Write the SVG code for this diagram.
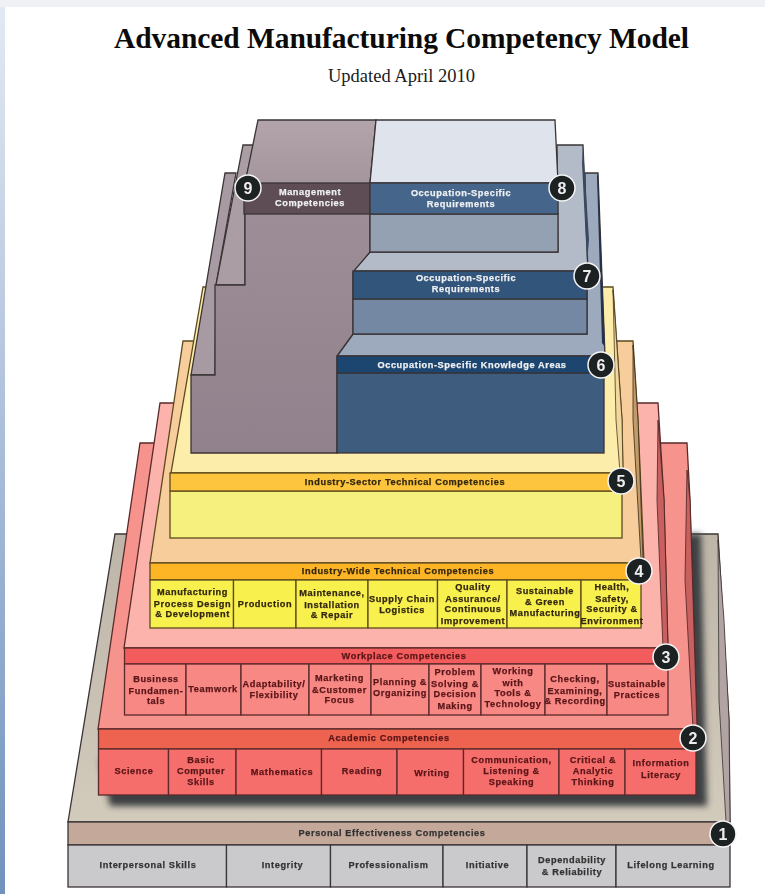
<svg xmlns="http://www.w3.org/2000/svg" width="765" height="894" viewBox="0 0 765 894">
<style>
.e{stroke:#3a3436;stroke-width:1.3;stroke-linejoin:miter}
.r{stroke:#5a2a2a;stroke-width:1.3}
.y{stroke:#5c4a1c;stroke-width:1.3}
.t{font-family:"Liberation Sans",Arial,sans-serif;font-weight:700;font-size:9.2px;letter-spacing:.6px;text-anchor:middle;stroke-width:.25px}
.w{fill:#eef0f2;stroke:#eef0f2}.g{fill:#333;stroke:#333}.d{fill:#5a1518;stroke:#5a1518}.b{fill:#33270f;stroke:#33270f}
.n circle{fill:#1e2024;stroke:#f4f4f4;stroke-width:1.5}
.n text{font-family:"Liberation Sans",Arial,sans-serif;font-weight:700;font-size:16px;fill:#eee;text-anchor:middle}
</style>
<defs>
<linearGradient id="side" x1="0" y1="0" x2="0" y2="1"><stop offset="0" stop-color="#e3e9f2"/><stop offset=".4" stop-color="#b5c6de"/><stop offset="1" stop-color="#7092bd"/></linearGradient>
<linearGradient id="mauve" x1="0" y1="0" x2="0" y2="1"><stop offset="0" stop-color="#b2a4aa"/><stop offset=".3" stop-color="#9d8d96"/><stop offset="1" stop-color="#91818c"/></linearGradient>
<linearGradient id="beige" x1="0" y1="0" x2="0" y2="1"><stop offset="0" stop-color="#bdb5a8"/><stop offset="1" stop-color="#d2cabb"/></linearGradient>
<filter id="soft" x="-5%" y="-5%" width="110%" height="110%"><feGaussianBlur stdDeviation=".35"/></filter>
<filter id="shade" x="-10%" y="-10%" width="120%" height="120%"><feGaussianBlur stdDeviation="3"/></filter>
</defs>
<rect width="765" height="894" fill="#fff"/>
<rect width="765" height="7" fill="#eff1f5"/>
<rect y="7" width="5" height="887" fill="url(#side)"/>
<text x="401.500" y="48" font-family="'Liberation Serif','Times New Roman',serif" font-weight="700" font-size="29.500px" text-anchor="middle" textLength="575" fill="#0b0b0b">Advanced Manufacturing Competency Model</text>
<text x="401.500" y="82" font-family="'Liberation Serif','Times New Roman',serif" font-size="18.500px" text-anchor="middle" textLength="147" fill="#1a1a1a">Updated April 2010</text>
<g filter="url(#soft)">
<g id="level1">
<polygon class="e" points="115,534 718,534 729,720 730,822 68,822" fill="url(#beige)"/>
<polygon points="718,540 724,620 729,720 730,822 726,822 719,700" fill="#b3a4a4" stroke="#3a3436" stroke-width=".8"/>
<polygon points="693,534 701,534 707,806 110,806 100,760" fill="#3d3f43" filter="url(#shade)"/>
</g>
<g id="level2-back">
<polygon class="r" points="140,443 687,443 690,500 697,729 98,729" fill="#f7938d"/>
<polygon points="687,470 690,500 697,729 693,729 685,580" fill="#c8605f" stroke="#4a2424" stroke-width=".8"/>
</g>
<g id="level3-back">
<polygon class="r" points="160,403 658,403 664,500 668,648 124,648" fill="#fbb3ac"/>
<polygon points="658,420 664,500 668,648 663,648 657,500" fill="#c9605f" stroke="#4a2424" stroke-width=".8"/>
</g>
<g id="level4-back">
<polygon class="y" points="183,341 633,341 638,420 644,563 150,563" fill="#f6cd9b"/>
<polygon points="633,345 638,420 643,560 641,560 633,420" fill="#c39a6a" stroke="#3a2c18" stroke-width=".8"/>
</g>
<g id="level5-back">
<polygon class="y" points="203,287 613,287 622,420 623,473 171,473" fill="#fdedab"/>
<polygon points="613,290 622,420 623,473 620,473 616,420" fill="#f2d79c" stroke="#4a3a20" stroke-width=".8"/>
</g>
<g id="backs">
<polygon class="e" points="585,173 598,173 605,356 337,356 353,334 587,334 587,271" fill="#9daabd"/>
<polygon points="597,176 598,173 605,347 602,343" fill="#25324a"/>
<polygon class="e" points="557,145 583,145 588,271 353,271 370,252 558,252" fill="#b3bbc9"/>
<polygon points="582,163 583,145 589,240 587,263" fill="#3a4a60"/>
<polygon class="e" points="225,173 236,173 216,285 215,375 191,375" fill="#a89aa2"/>
<polygon class="e" points="243,145 254,145 245,183 245,285 216,285" fill="#ab9da4"/>
</g>
<g id="mgmt">
<polygon class="e" points="258,120 376,120 370,183 370,252 353,272 353,334 337,356 337,453 191,453 191,375 215,375 215,285 245,285 245,183" fill="url(#mauve)"/>
<rect class="e" x="244" y="183" width="126" height="31" fill="#5e4d54"/>
<text class="t w" x="310" y="195">Management</text>
<text class="t w" x="310" y="206">Competencies</text>
</g>
<g id="occ8">
<polygon class="e" points="376,120 555,120 558,183 370,183" fill="#dfe4ec"/>
<rect class="e" x="370" y="214" width="188" height="38" fill="#93a1b3"/>
<rect class="e" x="370" y="183" width="188" height="31" fill="#44658a"/>
<text class="t w" x="461" y="196">Occupation-Specific</text>
<text class="t w" x="461" y="207">Requirements</text>
</g>
<g id="occ7">
<rect class="e" x="353" y="299" width="234" height="35" fill="#7488a3"/>
<rect class="e" x="353" y="271" width="234" height="28" fill="#32547c"/>
<text class="t w" x="466" y="281">Occupation-Specific</text>
<text class="t w" x="466" y="292">Requirements</text>
</g>
<g id="occ6">
<rect class="e" x="337" y="373" width="267" height="80" fill="#3e5c7e"/>
<rect class="e" x="337" y="356" width="267" height="17" fill="#1e4570"/>
<text class="t w" x="472" y="368">Occupation-Specific Knowledge Areas</text>
</g>
<g id="level5">
<rect class="y" x="170" y="491" width="452" height="47" fill="#f6f07f"/>
<rect class="y" x="170" y="473" width="452" height="18" fill="#fdc53c"/>
<text class="t b" x="405" y="485">Industry-Sector Technical Competencies</text>
</g>
<g id="level4">
<rect class="y" x="150" y="563" width="491" height="17" fill="#fdb528"/>
<text class="t b" x="398" y="574">Industry-Wide Technical Competencies</text>
<g fill="#f8f04e">
<rect class="y" x="150" y="580" width="83.500" height="48"/><rect class="y" x="233.500" y="580" width="62.500" height="48"/><rect class="y" x="296" y="580" width="72" height="48"/><rect class="y" x="368" y="580" width="69.500" height="48"/><rect class="y" x="437.500" y="580" width="69.500" height="48"/><rect class="y" x="507" y="580" width="74" height="48"/><rect class="y" x="581" y="580" width="60" height="48"/>
</g>
<text class="t b" x="192.500" y="595">Manufacturing</text><text class="t b" x="192.500" y="607">Process Design</text><text class="t b" x="192.500" y="617">&amp; Development</text>
<text class="t b" x="265" y="607">Production</text>
<text class="t b" x="332" y="596">Maintenance,</text><text class="t b" x="332" y="608">Installation</text><text class="t b" x="332" y="618">&amp; Repair</text>
<text class="t b" x="402" y="602">Supply Chain</text><text class="t b" x="402" y="613">Logistics</text>
<text class="t b" x="473" y="590">Quality</text><text class="t b" x="473" y="602">Assurance/</text><text class="t b" x="473" y="612">Continuous</text><text class="t b" x="473" y="624">Improvement</text>
<text class="t b" x="545" y="594">Sustainable</text><text class="t b" x="545" y="605">&amp; Green</text><text class="t b" x="545" y="616">Manufacturing</text>
<text class="t b" x="612" y="590">Health,</text><text class="t b" x="612" y="602">Safety,</text><text class="t b" x="612" y="612">Security &amp;</text><text class="t b" x="612" y="624">Environment</text>
</g>
<g id="level3">
<rect class="r" x="124.500" y="648" width="543.500" height="16" fill="#f25c5c"/>
<text class="t d" x="404" y="659">Workplace Competencies</text>
<g fill="#f88884">
<rect class="r" x="124.500" y="664" width="61.500" height="51"/><rect class="r" x="186" y="664" width="55" height="51"/><rect class="r" x="241" y="664" width="68" height="51"/><rect class="r" x="309" y="664" width="62" height="51"/><rect class="r" x="371" y="664" width="58" height="51"/><rect class="r" x="429" y="664" width="52" height="51"/><rect class="r" x="481" y="664" width="64" height="51"/><rect class="r" x="545" y="664" width="62" height="51"/><rect class="r" x="607" y="664" width="61" height="51"/>
</g>
<text class="t d" x="156" y="682">Business</text><text class="t d" x="156" y="694">Fundamen-</text><text class="t d" x="156" y="704">tals</text>
<text class="t d" x="213" y="692">Teamwork</text>
<text class="t d" x="274" y="687">Adaptability/</text><text class="t d" x="274" y="698">Flexibility</text>
<text class="t d" x="339.500" y="681">Marketing</text><text class="t d" x="339.500" y="693">&amp;Customer</text><text class="t d" x="339.500" y="703">Focus</text>
<text class="t d" x="400" y="685">Planning &amp;</text><text class="t d" x="400" y="696">Organizing</text>
<text class="t d" x="455" y="675">Problem</text><text class="t d" x="455" y="687">Solving &amp;</text><text class="t d" x="455" y="697">Decision</text><text class="t d" x="455" y="709">Making</text>
<text class="t d" x="513" y="674">Working</text><text class="t d" x="513" y="686">with</text><text class="t d" x="513" y="696">Tools &amp;</text><text class="t d" x="513" y="707">Technology</text>
<text class="t d" x="575" y="682">Checking,</text><text class="t d" x="575" y="694">Examining,</text><text class="t d" x="575" y="704">&amp; Recording</text>
<text class="t d" x="637" y="687">Sustainable</text><text class="t d" x="637" y="698">Practices</text>
</g>
<g id="level2">
<rect class="r" x="98.500" y="729" width="597.500" height="20" fill="#ee6350"/>
<text class="t d" x="389" y="741">Academic Competencies</text>
<g fill="#f66e6c">
<rect class="r" x="98.500" y="749" width="70" height="46"/><rect class="r" x="168.500" y="749" width="67.500" height="46"/><rect class="r" x="236" y="749" width="85.500" height="46"/><rect class="r" x="321.500" y="749" width="75.500" height="46"/><rect class="r" x="397" y="749" width="66.500" height="46"/><rect class="r" x="463.500" y="749" width="95.500" height="46"/><rect class="r" x="559" y="749" width="66" height="46"/><rect class="r" x="625" y="749" width="71" height="46"/>
</g>
<text class="t d" x="134" y="774">Science</text>
<text class="t d" x="201" y="763">Basic</text><text class="t d" x="201" y="774">Computer</text><text class="t d" x="201" y="785">Skills</text>
<text class="t d" x="282" y="775">Mathematics</text>
<text class="t d" x="362" y="774">Reading</text>
<text class="t d" x="432" y="776">Writing</text>
<text class="t d" x="511.500" y="763">Communication,</text><text class="t d" x="511.500" y="774">Listening &amp;</text><text class="t d" x="511.500" y="785">Speaking</text>
<text class="t d" x="593" y="763">Critical &amp;</text><text class="t d" x="593" y="774">Analytic</text><text class="t d" x="593" y="785">Thinking</text>
<text class="t d" x="661" y="766">Information</text><text class="t d" x="661" y="778">Literacy</text>
</g>
<g id="level1-front">
<rect class="e" x="68" y="822" width="662" height="23" fill="#c4a99b"/>
<text class="t g" x="392" y="836">Personal Effectiveness Competencies</text>
<g fill="#cacacc">
<rect class="e" x="68" y="845" width="158.500" height="42"/><rect class="e" x="226.500" y="845" width="104" height="42"/><rect class="e" x="330.500" y="845" width="112.500" height="42"/><rect class="e" x="443" y="845" width="84" height="42"/><rect class="e" x="527" y="845" width="89" height="42"/><rect class="e" x="616" y="845" width="114" height="42"/>
</g>
<text class="t g" x="148" y="868">Interpersonal Skills</text>
<text class="t g" x="282.500" y="868">Integrity</text>
<text class="t g" x="388.500" y="868">Professionalism</text>
<text class="t g" x="487.500" y="868">Initiative</text>
<text class="t g" x="572" y="863">Dependability</text><text class="t g" x="572" y="875">&amp; Reliability</text>
<text class="t g" x="671" y="868">Lifelong Learning</text>
</g>
<g id="badges" class="n">
<g id="badge9"><circle cx="248" cy="188" r="13"/><text x="248" y="194">9</text></g>
<g id="badge8"><circle cx="562" cy="188" r="13"/><text x="562" y="194">8</text></g>
<g id="badge7"><circle cx="587" cy="276" r="13"/><text x="587" y="282">7</text></g>
<g id="badge6"><circle cx="601" cy="365" r="13"/><text x="601" y="371">6</text></g>
<g id="badge5"><circle cx="621" cy="481" r="13"/><text x="621" y="487">5</text></g>
<g id="badge4"><circle cx="639" cy="571" r="13"/><text x="639" y="577">4</text></g>
<g id="badge3"><circle cx="666" cy="657" r="13"/><text x="666" y="663">3</text></g>
<g id="badge2"><circle cx="693" cy="738" r="13"/><text x="693" y="744">2</text></g>
<g id="badge1"><circle cx="723" cy="834" r="13"/><text x="723" y="840">1</text></g>
</g>
</g>
</svg>
